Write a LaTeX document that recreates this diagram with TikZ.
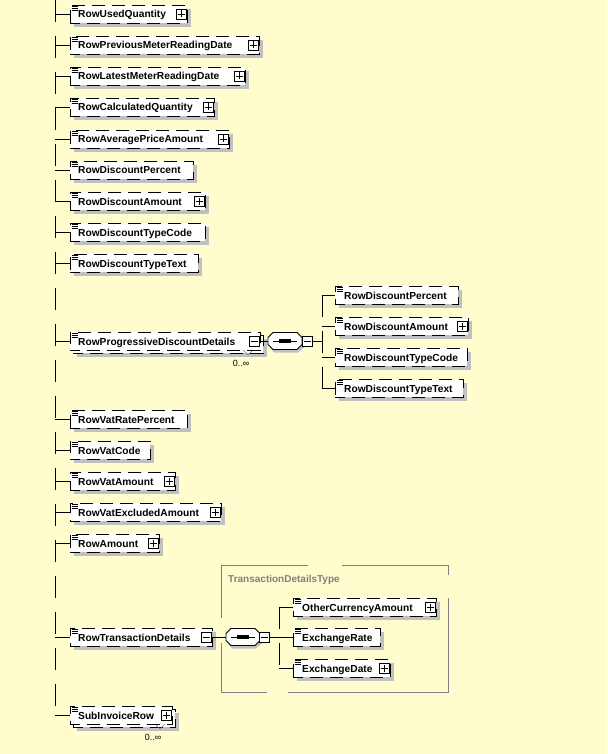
\documentclass[tikz,border=0pt]{standalone}
\usepackage{fontspec}
\setmainfont{Liberation Sans}
\definecolor{bgc}{RGB}{255,253,205}
\definecolor{shc}{RGB}{192,192,192}
\definecolor{typec}{RGB}{128,128,128}
\tikzset{
  conn/.style={line width=0.9pt, black},
  vdash/.style={line width=0.9pt, black, dash pattern=on 22pt off 14pt},
  elembox/.style={draw, fill=white, line width=0.9pt, dash pattern=on 13pt off 7pt, dash phase=3pt, minimum height=18pt, inner sep=0pt, anchor=west},
  elemtext/.style={font=\bfseries\fontsize{10.2}{12}\selectfont, inner sep=0pt, anchor=base west},
  btn/.style={draw, fill=white, line width=0.8pt, minimum size=10pt, inner sep=0pt},
  iconl/.style={line width=0.8pt},
  occ/.style={font=\fontsize{9}{10}\selectfont, inner sep=0pt},
  typeline/.style={line width=0.9pt, typec},
  typetext/.style={font=\bfseries\fontsize{10}{12}\selectfont, text=typec, inner sep=0pt, anchor=base west},
  seqbox/.style={rectangle, minimum width=34pt, minimum height=17pt, inner sep=0pt},
}
\newcommand{\xpad}{8}
% #1 name, #2 left, #3 y, #4 right, #5 text, #6 button 0 none 1 plus 2 minus, #7 multi
\newcommand{\xel}[7]{%
  \pgfmathsetmacro{\xw}{#4-#2}%
  \ifnum#7=1\relax
    \fill[shc] (#2+7,#3-9+7) rectangle (#4+7,#3+9+7);
    \node[elembox, minimum width=\xw] (#1b) at (#2+3,#3+3) {};
    \draw[line width=0.6pt, typec] (#4-17,#3+9) -- (#4-12,#3+14) -- (#4-7,#3+9);
  \else
    \fill[shc] (#2+4,#3-9+4) rectangle (#4+4,#3+9+4);
  \fi
  \node[elembox, minimum width=\xw] (#1) at (#2,#3) {};
  \node[elemtext] (#1t) at ([xshift=\xpad pt,yshift=-4pt]#1.west) {#5};
  \draw[iconl] (#2+1.5,#3-8) -- ++(6,0) (#2+1.5,#3-6) -- ++(6,0) (#2+1.5,#3-4) -- ++(6,0);
  \ifcase#6\relax
  \or
    \node[btn] (#1x) at (#4-6,#3) {};
    \draw[line width=0.8pt] ([xshift=-3.5pt]#1x.center) -- ([xshift=3.5pt]#1x.center)
      ([yshift=-3.5pt]#1x.center) -- ([yshift=3.5pt]#1x.center);
  \or
    \node[btn] (#1x) at (#4-6,#3) {};
    \draw[line width=0.8pt] ([xshift=-3.5pt]#1x.center) -- ([xshift=3.5pt]#1x.center);
  \fi
}
% #1 name, #2 x of trunk, #3 y
\newcommand{\xjoin}[3]{%
  \coordinate (#1j) at (#2,#3);
  \draw[conn] (#1j) -- (#1.west);
}
% sequence compositor: #1 name, #2 cx, #3 cy, #4 minus cx
\newcommand{\xseq}[4]{%
  \fill[shc] (#2-15,#3-3.5+3) -- (#2-11,#3-8.5+3) -- (#2+13,#3-8.5+3) -- (#2+19,#3-3.5+3)
    -- (#2+19,#3+3.5+3) -- (#2+13,#3+8.5+3) -- (#2-11,#3+8.5+3) -- (#2-15,#3+3.5+3) -- cycle;
  \node[seqbox] (#1) at (#2,#3) {};
  \filldraw[fill=white, line width=0.9pt] (#2-17,#3-3.5) -- (#2-12,#3-8.5) -- (#2+12,#3-8.5) -- (#2+17,#3-3.5)
    -- (#2+17,#3+3.5) -- (#2+12,#3+8.5) -- (#2-12,#3+8.5) -- (#2-17,#3+3.5) -- cycle;
  \draw[line width=0.9pt] ([xshift=5pt]#1.west) -- ([xshift=-5pt]#1.east);
  \foreach \dx in {-4,0,4} {\fill (#2+\dx-1.6,#3-1.6) rectangle (#2+\dx+1.6,#3+1.6);}
  \node[btn] (#1x) at (#4,#3) {};
  \draw[line width=0.8pt] ([xshift=-3.5pt]#1x.center) -- ([xshift=3.5pt]#1x.center);
}
\begin{document}
\begin{tikzpicture}[x=1pt,y=-1pt]
\fill[bgc] (0,0) rectangle (607,754);
\useasboundingbox (0,0) rectangle (607,754);

% main trunk
\coordinate (mtop) at (55,0);
\coordinate (mbot) at (55,715);
\draw[vdash] (mtop) -- (mbot);

\xel{e1}{70}{14}{187}{RowUsedQuantity}{1}{0}
\xel{e2}{70}{45}{259}{RowPreviousMeterReadingDate}{1}{0}
\xel{e3}{70}{76}{245}{RowLatestMeterReadingDate}{1}{0}
\xel{e4}{70}{107}{214}{RowCalculatedQuantity}{1}{0}
\xel{e5}{70}{139}{229}{RowAveragePriceAmount}{1}{0}
\xel{e6}{70}{170}{193}{RowDiscountPercent}{0}{0}
\xel{e7}{70}{201}{205}{RowDiscountAmount}{1}{0}
\xel{e8}{70}{232}{205}{RowDiscountTypeCode}{0}{0}
\xel{e9}{70}{263}{198}{RowDiscountTypeText}{0}{0}
\xel{e10}{70}{341}{260}{RowProgressiveDiscountDetails}{2}{1}
\xel{e11}{70}{419}{187}{RowVatRatePercent}{0}{0}
\xel{e12}{70}{450}{150}{RowVatCode}{0}{0}
\xel{e13}{70}{481}{175}{RowVatAmount}{1}{0}
\xel{e14}{70}{512}{221}{RowVatExcludedAmount}{1}{0}
\xel{e15}{70}{543}{159}{RowAmount}{1}{0}
\xel{e16}{70}{637}{212}{RowTransactionDetails}{2}{0}
\xel{e17}{70}{715}{172}{SubInvoiceRow}{1}{1}

\foreach \n/\y in {e1/14,e2/45,e3/76,e4/107,e5/139,e6/170,e7/201,e8/232,e9/263,e10/341,e11/419,e12/450,e13/481,e14/512,e15/543,e16/637,e17/715}{
  \xjoin{\n}{55}{\y}
}

\node[occ] (o10) at (241,363) {0..∞};
\node[occ] (o17) at (153,737) {0..∞};

% progressive discount sequence
\xseq{s1}{285}{341}{307}
\draw[conn] (e10x.east) -- (s1.west);
\coordinate (s1v) at (322,341);
\draw[conn] (s1x.east) -- (s1v);
\coordinate (s1top) at (322,295);
\coordinate (s1bot) at (322,388);
\draw[vdash] (s1top) -- (s1bot);
\renewcommand{\xpad}{9}
\xel{c1}{335}{295}{458}{RowDiscountPercent}{0}{0}
\xel{c2}{335}{326}{468}{RowDiscountAmount}{1}{0}
\xel{c3}{335}{357}{467}{RowDiscountTypeCode}{0}{0}
\xel{c4}{335}{388}{463}{RowDiscountTypeText}{0}{0}
\foreach \n/\y in {c1/295,c2/326,c3/357,c4/388}{
  \xjoin{\n}{322}{\y}
}

% transaction details type box
\draw[typeline] (221,565) -- (308,565) (342,565) -- (448,565) -- (448,575)
  (448,598) -- (448,692) -- (288,692) (267,692) -- (221,692) -- (221,643)
  (221,618) -- (221,565);
\node[typetext] (tdt) at (228,582) {TransactionDetailsType};

\xseq{s2}{243}{637}{264}
\draw[conn] (e16x.east) -- (s2.west);
\coordinate (s2v) at (279,637);
\draw[conn] (s2x.east) -- (s2v);
\coordinate (s2top) at (279,607);
\coordinate (s2bot) at (279,668);
\draw[vdash] (s2top) -- (s2bot);
\xel{t1}{293}{607}{436}{OtherCurrencyAmount}{1}{0}
\xel{t2}{293}{637}{380}{ExchangeRate}{0}{0}
\xel{t3}{293}{668}{390}{ExchangeDate}{1}{0}
\foreach \n/\y in {t1/607,t2/637,t3/668}{
  \xjoin{\n}{279}{\y}
}
\end{tikzpicture}
\end{document}
